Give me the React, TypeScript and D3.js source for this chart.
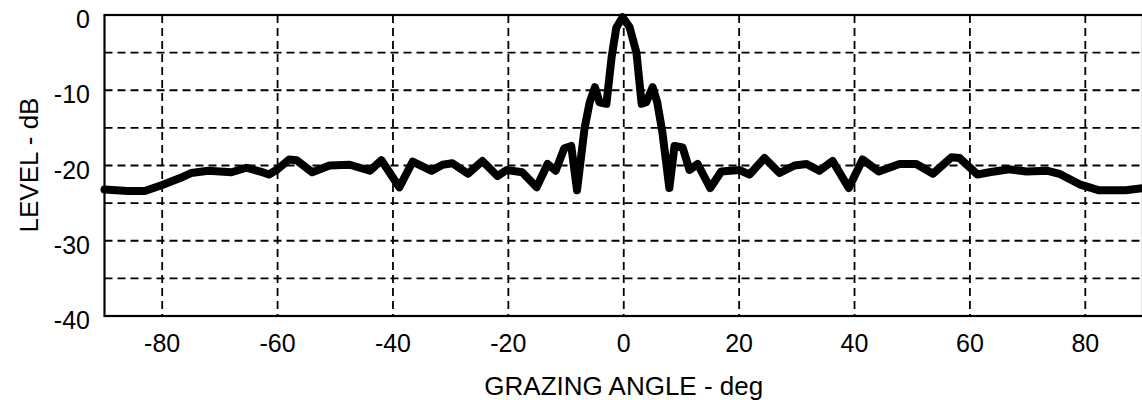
import * as d3 from 'd3';
import React, { useRef, useEffect } from 'react';

const angles = [
  -90, -86, -83, -80, -77, -75, -72, -68, -65.4, -63, -61.5, -60, -58, -56.7, -54, -51,
  -47.5, -44, -42, -38.9, -36.6, -33.3, -31.4, -29.7, -27, -24.5, -21.9, -20.3, -17.6,
  -15.1, -13.2, -11.8, -10.3, -9.1, -8.1, -6.8, -5.9, -5.0, -4.2, -3.0, -2.1, -1.3, -0.2,
  1.0, 2.2, 3.1, 3.9, 5.0, 5.8, 6.7, 7.9, 8.8, 10.2, 11.4, 12.8, 15.0, 16.9, 20.1, 21.8,
  24.4, 27, 29.6, 31.7, 33.9, 36.2, 39.0, 41.4, 44.2, 47.8, 50.7, 53.6, 56.8, 58.2, 61.3,
  63.4, 66.8, 69.8, 73.5, 75.5, 79, 82.4, 87, 90
];
const levels = [
  -23.2, -23.4, -23.4, -22.6, -21.7, -21.0, -20.7, -20.9, -20.3, -20.8, -21.2, -20.5, -19.2,
  -19.3, -20.9, -20.0, -19.9, -20.7, -19.3, -22.9, -19.5, -20.7, -19.9, -19.7, -21.1, -19.4,
  -21.4, -20.6, -20.9, -22.9, -19.8, -20.7, -17.7, -17.4, -23.3, -15.1, -11.6, -9.6, -11.6,
  -11.8, -5.6, -1.7, -0.3, -1.6, -5.0, -11.8, -11.6, -9.6, -11.6, -15.6, -23.0, -17.4, -17.6,
  -20.6, -19.8, -23.0, -20.8, -20.6, -21.2, -19.0, -21.0, -20.0, -19.8, -20.7, -19.4, -23.0,
  -19.2, -20.8, -19.8, -19.8, -21.1, -18.9, -19.0, -21.2, -20.9, -20.5, -20.8, -20.7, -21.1,
  -22.5, -23.3, -23.3, -23.0
];
const xTicks = [-80, -60, -40, -20, 0, 20, 40, 60, 80];
const yTicks = [0, -10, -20, -30, -40];
const yGrid = [-5, -10, -15, -20, -25, -30, -35];

function PatternChart({ width, height }) {
  const ref = useRef(null);

  useEffect(() => {
    draw();
  }, []);

  const draw = () => {
    const svg = d3.select(ref.current);
    svg.selectAll('*').remove();

    const font = '"Liberation Sans", Arial, Helvetica, sans-serif';

    // Scale
    const x = d3.scaleLinear().domain([-90, 90]).range([104.5, 1143]);
    const y = d3.scaleLinear().domain([0, -40]).range([15, 316]);

    // GRID
    const grid = svg.append('g')
      .attr('stroke', '#000')
      .attr('stroke-width', 1.8)
      .attr('stroke-dasharray', '8,5');

    grid.selectAll('.vgrid')
      .data(xTicks)
      .enter()
      .append('line')
      .attr('x1', d => x(d))
      .attr('x2', d => x(d))
      .attr('y1', y(0))
      .attr('y2', y(-40));

    grid.selectAll('.hgrid')
      .data(yGrid)
      .enter()
      .append('line')
      .attr('x1', x(-90))
      .attr('x2', x(90))
      .attr('y1', d => y(d))
      .attr('y2', d => y(d));

    // FRAME
    svg.append('rect')
      .attr('x', x(-90))
      .attr('y', y(0))
      .attr('width', x(90) - x(-90))
      .attr('height', y(-40) - y(0))
      .attr('fill', 'none')
      .attr('stroke', '#000')
      .attr('stroke-width', 2.2);

    // TICK LABELS
    svg.append('g')
      .selectAll('text')
      .data(xTicks)
      .enter()
      .append('text')
      .attr('x', d => x(d))
      .attr('y', 352)
      .attr('text-anchor', 'middle')
      .style('font-family', font)
      .style('font-size', '25px')
      .text(d => d);

    svg.append('g')
      .selectAll('text')
      .data(yTicks)
      .enter()
      .append('text')
      .attr('x', 90)
      .attr('y', d => y(d) + 13)
      .attr('text-anchor', 'end')
      .style('font-family', font)
      .style('font-size', '25px')
      .text(d => d);

    // AXIS TITLES
    svg.append('text')
      .attr('x', x(0))
      .attr('y', 395)
      .attr('text-anchor', 'middle')
      .style('font-family', font)
      .style('font-size', '26px')
      .text('GRAZING ANGLE - deg');

    svg.append('text')
      .attr('transform', `translate(38, 165) rotate(-90)`)
      .attr('text-anchor', 'middle')
      .style('font-family', font)
      .style('font-size', '26px')
      .text('LEVEL - dB');

    // CURVE
    const line = d3.line()
      .x((d, i) => x(angles[i]))
      .y(d => y(d));

    svg.append('path')
      .datum(levels)
      .attr('d', line)
      .attr('fill', 'none')
      .attr('stroke', '#000')
      .attr('stroke-width', 8)
      .attr('stroke-linejoin', 'round')
      .attr('stroke-linecap', 'round');
  };

  return (
    <svg ref={ref} width={width} height={height}
      style={{ position: 'absolute', left: 0, top: 0, background: '#fff' }} />
  );
}

export default function App() {
  return <PatternChart width={1142} height={400} />;
}
